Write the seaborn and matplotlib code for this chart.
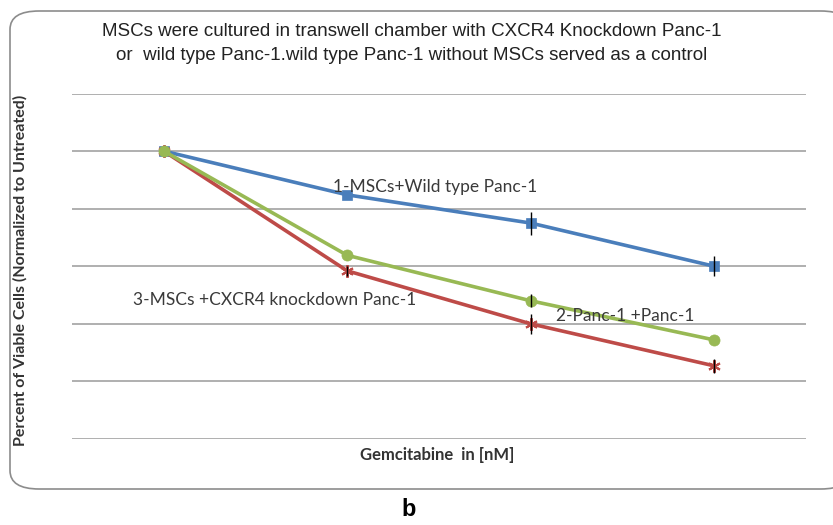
import matplotlib
matplotlib.use("Agg")
import matplotlib.pyplot as plt
from matplotlib.patches import FancyBboxPatch
import seaborn as sns
import pandas as pd

# ---- data (y in gridline units, no tick labels shown) ----
doses = [0, 1, 2, 3]  # category positions (no tick labels in the original)
wild_type = [5.0, 4.24, 3.75, 3.0]
wild_type_err = [0.0, 0.0, 0.2, 0.17]
panc_control = [5.0, 3.19, 2.40, 1.72]
panc_control_err = [0.0, 0.0, 0.11, 0.0]
knockdown = [5.0, 2.92, 2.0, 1.27]
knockdown_err = [0.0, 0.09, 0.17, 0.12]

series_names = ["1-MSCs+Wild type Panc-1", "2-Panc-1 +Panc-1", "3-MSCs +CXCR4 knockdown Panc-1"]
colors = ["#4A7EBB", "#98B954", "#BE4B48"]
markers = ["s", "o", (6, 2, 0)]

rows = []
for name, vals in zip(series_names, [wild_type, panc_control, knockdown]):
    for d, v in zip(doses, vals):
        rows.append({"dose": d, "value": v, "series": name})
df = pd.DataFrame(rows)

sns.set_theme(style="white")
plt.rcParams['font.family'] = ['Liberation Sans', 'DejaVu Sans']

fig = plt.figure(figsize=(8.33, 5.25), dpi=100)
# rounded outer frame
frame = FancyBboxPatch((10 / 833, 36 / 525), 840 / 833, 478 / 525,
                       boxstyle="round,pad=0,rounding_size=0.035",
                       transform=fig.transFigure, facecolor="white",
                       edgecolor="#8c8c8c", linewidth=1.2, zorder=-5)
fig.patches.append(frame)

ax = fig.add_axes([72 / 833, (525 - 439) / 525, 734 / 833, (439 - 93.5) / 525])
ax.set_zorder(2)
ax.set_facecolor("none")

# draw order: blue, red, green on top
zorders = {0: 3, 2: 4, 1: 5}
msize = {0: 7.5, 1: 8, 2: 9}
for i in [0, 2, 1]:
    name = series_names[i]
    sub = df[df["series"] == name]
    sns.lineplot(data=sub, x="dose", y="value", ax=ax, color=colors[i],
                 marker=markers[i], markersize=msize[i],
                 markeredgecolor=colors[i],
                 markeredgewidth=1.5 if i == 2 else 0.5,
                 linewidth=2.6, legend=False, zorder=zorders[i])
for vals, errs in [(wild_type, wild_type_err), (panc_control, panc_control_err), (knockdown, knockdown_err)]:
    xs = [d for d, e in zip(doses, errs) if e > 0]
    ys = [v for v, e in zip(vals, errs) if e > 0]
    es = [e for e in errs if e > 0]
    ax.errorbar(xs, ys, yerr=es, fmt="none", ecolor="black", elinewidth=1.0,
                capsize=0, zorder=6)

ax.set_xlim(-0.5, 3.5)
ax.set_ylim(0, 6)
ax.set_yticks(range(0, 7))
ax.set_xticks([])
ax.set_yticklabels([])
ax.tick_params(left=False, bottom=False)
ax.grid(axis="y", color="#9a9a9a", linewidth=1.1)
ax.grid(axis="x", visible=False)
for s in ax.spines.values():
    s.set_visible(False)
ax.set_xlabel("")
ax.set_ylabel("")

# in-plot series labels
lab_kw = dict(fontsize=12.5, color="#3a3a3a", family=["Lato", "DejaVu Sans"], zorder=7)
ax.text(0.925, 4.37, series_names[0], ha="left", va="center", **lab_kw)
ax.text(2.14, 2.13, series_names[1], ha="left", va="center", **lab_kw)
ax.text(-0.17, 2.42, series_names[2], ha="left", va="center", **lab_kw)

# titles / labels
fig.text(412 / 833, 1 - 32 / 525, "MSCs were cultured in transwell chamber with CXCR4 Knockdown Panc-1",
         ha="center", va="center", fontsize=13.5, color="#222222")
fig.text(412 / 833, 1 - 55 / 525, "or  wild type Panc-1.wild type Panc-1 without MSCs served as a control",
         ha="center", va="center", fontsize=13.5, color="#222222")
fig.text(20 / 833, 1 - 270 / 525, "Percent of Viable Cells (Normalized to Untreated)",
         rotation=90, ha="center", va="center", fontsize=11.5, fontweight="bold",
         color="#333333", family=["Lato", "DejaVu Sans"])
fig.text(437 / 833, 1 - 455 / 525, "Gemcitabine  in [nM]", ha="center", va="center",
         fontsize=12, fontweight="bold", color="#333333", family=["Lato", "DejaVu Sans"])
fig.text(409 / 833, 1 - 510 / 525, "b", ha="center", va="center", fontsize=17,
         fontweight="bold", color="black")

fig.savefig("out.png", dpi=100)
